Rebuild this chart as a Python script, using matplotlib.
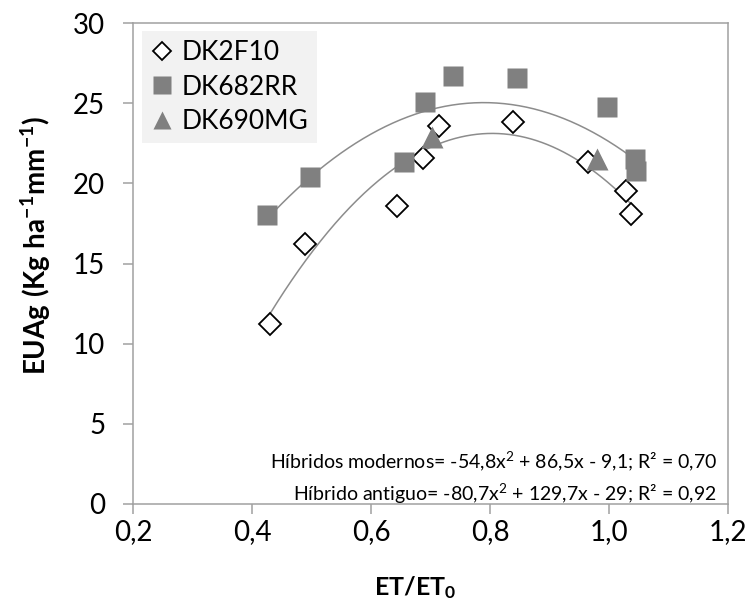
import numpy as np
import matplotlib

matplotlib.use("Agg")
import matplotlib.pyplot as plt

# values
et_dk2f10 = [0.430, 0.489, 0.643, 0.687, 0.715, 0.839, 0.964, 1.029, 1.037]
eua_dk2f10 = [11.2, 16.2, 18.6, 21.6, 23.6, 23.85, 21.3, 19.5, 18.1]
et_dk682rr = [0.425, 0.497, 0.655, 0.691, 0.737, 0.846, 0.996, 1.044, 1.045]
eua_dk682rr = [18.0, 20.4, 21.3, 25.1, 26.7, 26.6, 24.75, 21.5, 20.8]
et_dk690mg = [0.702, 0.979]
eua_dk690mg = [22.9, 21.5]

# quadratic fits as printed on the chart (a, b, c)
coef_modern = [-54.8, 86.5, -9.1]
coef_old = [-80.7, 129.7, -29.0]

x_ticks = [0.2, 0.4, 0.6, 0.8, 1.0, 1.2]
y_ticks = [0, 5, 10, 15, 20, 25, 30]

FONT = "Lato"
plt.rcParams["font.family"] = [FONT, "DejaVu Sans"]
plt.rcParams["mathtext.fontset"] = "custom"
plt.rcParams["mathtext.rm"] = FONT
plt.rcParams["mathtext.it"] = FONT
plt.rcParams["mathtext.bf"] = FONT + ":bold"

GRAY = "#808080"
SPINE = "#a0a0a0"
LINE = "#8c8c8c"

W, H = 752, 614
fig = plt.figure(figsize=(W / 100, H / 100), dpi=100)
ax = fig.add_axes([133 / W, 1 - 504 / H, 595 / W, 481 / H])

# trend lines
x_mod = np.linspace(min(et_dk682rr + et_dk690mg), max(et_dk682rr + et_dk690mg), 200)
x_old = np.linspace(min(et_dk2f10), max(et_dk2f10), 200)
ax.plot(x_mod, np.polyval(coef_modern, x_mod), color=LINE, lw=1.1, zorder=2)
ax.plot(x_old, np.polyval(coef_old, x_old), color=LINE, lw=1.1, zorder=2)

ax.plot(et_dk2f10, eua_dk2f10, ls="none", marker="D", ms=11, mfc="white",
        mec="black", mew=1.3, label="DK2F10", zorder=3)
ax.plot(et_dk682rr, eua_dk682rr, ls="none", marker="s", ms=15, mfc=GRAY,
        mec="none", label="DK682RR", zorder=3)
ax.plot(et_dk690mg, eua_dk690mg, ls="none", marker="^", ms=16, mfc=GRAY,
        mec="none", label="DK690MG", zorder=4)

ax.set_xlim(0.2, 1.2)
ax.set_ylim(0, 30)
ax.set_xticks(x_ticks)
ax.set_yticks(y_ticks)
ax.set_xticklabels([f"{t:.1f}".replace(".", ",") for t in x_ticks])
ax.set_yticklabels([str(t) for t in y_ticks])
ax.tick_params(axis="both", labelsize=20, color=SPINE, width=1.1, length=7,
               direction="out")
ax.tick_params(axis="y", pad=13)
ax.tick_params(axis="x", pad=4)
for s in ax.spines.values():
    s.set_color(SPINE)
    s.set_linewidth(1.1)

fig.text(415 / W, 1 - 588 / H, r"$\mathbf{ET/ET_0}$", fontsize=18,
         ha="center", va="center")
fig.text(36 / W, 1 - 246 / H, r"$\mathbf{EUAg\ (Kg\ ha^{-1}mm^{-1})}$",
         fontsize=20, ha="center", va="center", rotation=90)

ax.text(0.9815, 0.089, "Híbridos modernos= -54,8x$^{2}$ + 86,5x - 9,1; R² = 0,70",
        transform=ax.transAxes, ha="right", va="center", fontsize=14)
ax.text(0.9815, 0.021, "Híbrido antiguo= -80,7x$^{2}$ + 129,7x - 29; R² = 0,92",
        transform=ax.transAxes, ha="right", va="center", fontsize=14)

leg = ax.legend(loc="upper left", bbox_to_anchor=(0.015, 0.983), borderaxespad=0,
                fontsize=19, frameon=True, fancybox=False, handlelength=0.8,
                handletextpad=0.35, labelspacing=0.35, borderpad=0.35,
                markerscale=0.85)
leg.get_frame().set_facecolor("#f2f2f2")
leg.get_frame().set_edgecolor("none")
leg.get_frame().set_alpha(1)

fig.savefig("out.png", dpi=100)
